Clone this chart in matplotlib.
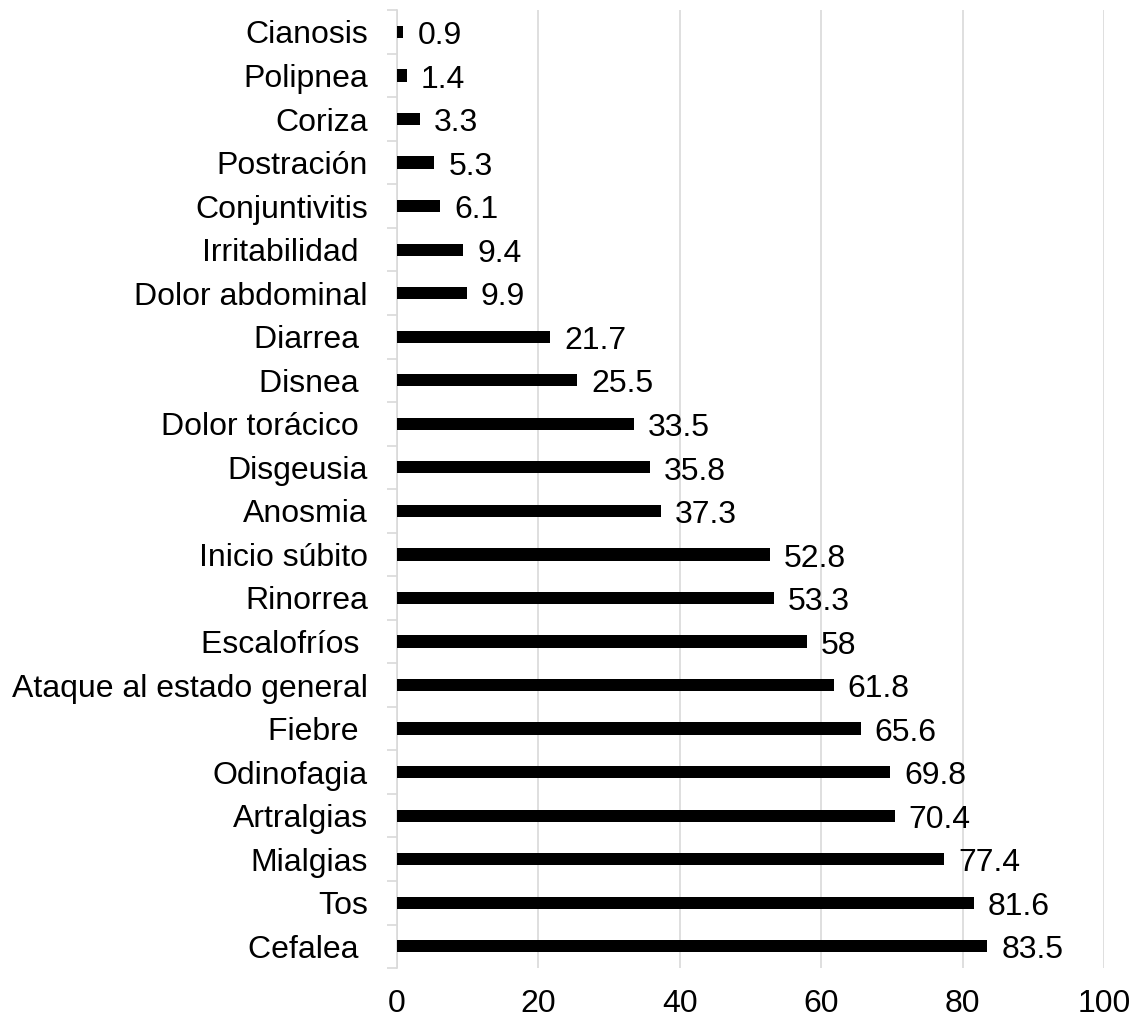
import matplotlib
matplotlib.use("Agg")
import matplotlib.pyplot as plt
import numpy as np

plt.rcParams['font.family'] = ['Liberation Sans', 'DejaVu Sans']

# Symptoms, bottom to top
symptoms = [
    "Cefalea ", "Tos", "Mialgias", "Artralgias", "Odinofagia", "Fiebre ",
    "Ataque al estado general", "Escalofríos ", "Rinorrea", "Inicio súbito",
    "Anosmia", "Disgeusia", "Dolor torácico ", "Disnea ", "Diarrea ",
    "Dolor abdominal", "Irritabilidad ", "Conjuntivitis", "Postración",
    "Coriza", "Polipnea", "Cianosis",
]
percent = [
    83.5, 81.6, 77.4, 70.4, 69.8, 65.6,
    61.8, 58, 53.3, 52.8,
    37.3, 35.8, 33.5, 25.5, 21.7,
    9.9, 9.4, 6.1, 5.3,
    3.3, 1.4, 0.9,
]
value_labels = [
    "83.5", "81.6", "77.4", "70.4", "69.8", "65.6",
    "61.8", "58", "53.3", "52.8",
    "37.3", "35.8", "33.5", "25.5", "21.7",
    "9.9", "9.4", "6.1", "5.3",
    "3.3", "1.4", "0.9",
]
x_ticks = [0, 20, 40, 60, 80, 100]

FS = 23

fig = plt.figure(figsize=(11.36, 10.19), dpi=100)
ax = fig.add_axes([0.3495, 0.05, 0.9718 - 0.3495, 0.94])

y = np.arange(len(symptoms))
ax.barh(y, percent, height=0.28, color="black", zorder=3)

for yi, v, lab in zip(y, percent, value_labels):
    ax.annotate(lab, xy=(v, yi), xytext=(10, -3), textcoords="offset points",
                ha="left", va="center", fontsize=FS, color="black")

ax.set_xlim(0, 100)
ax.set_ylim(-0.5, len(symptoms) - 0.5)
ax.set_xticks(x_ticks)
ax.set_xticklabels([str(t) for t in x_ticks])

# category labels with boundary tick marks
ax.set_yticks(y)
ax.set_yticklabels(symptoms)
ax.set_yticks(np.arange(-0.5, len(symptoms)), minor=True)
ax.tick_params(axis="y", which="major", length=0, pad=21, labelsize=FS)
ax.tick_params(axis="y", which="minor", length=7.5, width=1.2, color="#d9d9d9")
ax.tick_params(axis="x", length=0, pad=15, labelsize=FS)

ax.grid(axis="x", color="#d9d9d9", linewidth=1.2, zorder=0)
ax.set_axisbelow(True)
for side in ["top", "right", "bottom"]:
    ax.spines[side].set_visible(False)
ax.spines["left"].set_color("#d9d9d9")
ax.spines["left"].set_linewidth(1.2)

fig.savefig("out.png", dpi=100)
